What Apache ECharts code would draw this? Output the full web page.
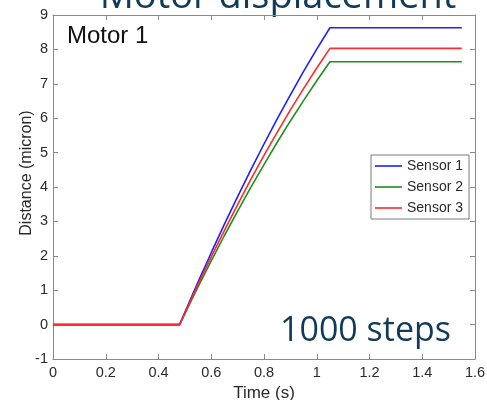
<!DOCTYPE html>
<html>
<head>
<meta charset="utf-8">
<script src="https://cdn.jsdelivr.net/npm/echarts@6/dist/echarts.min.js"></script>
<style>
html,body{margin:0;padding:0;background:#fff;}
#chart{width:487px;height:400px;}
</style>
</head>
<body>
<div id="chart"></div>
<script>
const times   = [0, 0.48, 0.52, 0.56, 0.60, 0.65, 0.70, 0.75, 0.80, 0.85, 0.90, 0.95, 1.00, 1.05, 1.55];
const sensor1 = [0, 0, 0.71, 1.41, 2.09, 2.92, 3.72, 4.50, 5.25, 5.98, 6.68, 7.36, 8.01, 8.63, 8.63];
const sensor2 = [0, 0, 0.63, 1.25, 1.85, 2.59, 3.30, 3.99, 4.65, 5.30, 5.92, 6.51, 7.09, 7.64, 7.64];
const sensor3 = [0, 0, 0.67, 1.33, 1.97, 2.74, 3.49, 4.22, 4.92, 5.59, 6.24, 6.86, 7.46, 8.03, 8.03];
const seriesNames = ['Sensor 1', 'Sensor 2', 'Sensor 3'];
const seriesColors = ['#1f1fff', '#1f8f1f', '#ff2a2a'];
const titleText = 'Motor displacement';
const panelText = 'Motor 1';
const stepsText = '1000 steps';
const xName = 'Time (s)';
const yName = 'Distance (micron)';

const pairs = arr => times.map((t, i) => [t, arr[i]]);
const seriesData = [sensor1, sensor2, sensor3];

const axisColor = '#8a8a8a';
const labelColor = '#2a2a2a';
const font = 'Liberation Sans, Arial, sans-serif';

const frameAxis = {
  axisLine: {show: true, onZero: false, lineStyle: {color: axisColor, width: 1}},
  axisTick: {show: true, inside: true, length: 5, lineStyle: {color: axisColor}},
  splitLine: {show: false}
};

const chart = echarts.init(document.getElementById('chart'));
chart.setOption({
  animation: false,
  backgroundColor: '#fff',
  grid: {left: 53, right: 12, top: 15, bottom: 41, containLabel: false, outerBoundsMode: 'none'},
  xAxis: [Object.assign({
    type: 'value', min: 0, max: 1.6, interval: 0.2, position: 'bottom',
    name: xName, nameLocation: 'middle', nameGap: 21,
    nameTextStyle: {fontFamily: font, fontSize: 17, color: labelColor},
    axisLabel: {fontFamily: font, fontSize: 14.5, color: labelColor, margin: 6,
      formatter: v => String(Math.round(v * 10) / 10)}
  }, frameAxis), Object.assign({
    type: 'value', min: 0, max: 1.6, interval: 0.2, position: 'top',
    axisLabel: {show: false}
  }, frameAxis)],
  yAxis: [Object.assign({
    type: 'value', min: -1, max: 9, interval: 1, position: 'left',
    axisLabel: {fontFamily: font, fontSize: 14.5, color: labelColor, margin: 5}
  }, frameAxis), Object.assign({
    type: 'value', min: -1, max: 9, interval: 1, position: 'right',
    axisLabel: {show: false}
  }, frameAxis)],
  legend: {
    orient: 'vertical', left: 371, top: 155,
    itemWidth: 27, itemHeight: 14, itemGap: 7,
    padding: [4, 6, 4, 4],
    backgroundColor: '#fff', borderColor: '#7a7a7a', borderWidth: 1,
    textStyle: {fontFamily: font, fontSize: 14, color: labelColor},
    data: seriesNames.map(n => ({name: n, icon: 'path://M0 0H27V1.6H0Z'}))
  },
  series: seriesNames.map((n, i) => ({
    name: n, type: 'line', data: pairs(seriesData[i]),
    symbol: 'none', showSymbol: false,
    lineStyle: {color: seriesColors[i], width: 1.6},
    itemStyle: {color: seriesColors[i]},
    z: i === 1 ? 2 : (i === 0 ? 3 : 4)
  })),
  graphic: [
    {type: 'text', style: {text: titleText, x: 278, y: -3, align: 'center', verticalAlign: 'middle',
      font: '38px "Open Sans", sans-serif', fill: '#123a5a'}},
    {type: 'text', style: {text: panelText, x: 67, y: 36, align: 'left', verticalAlign: 'middle',
      font: '24px "Liberation Sans", Arial, sans-serif', fill: '#111'}},
    {type: 'text', style: {text: stepsText, x: 280, y: 331, align: 'left', verticalAlign: 'middle',
      font: '34px "Open Sans", sans-serif', fill: '#123a5a'}},
    {type: 'text', rotation: Math.PI / 2, x: 27, y: 173,
      style: {text: yName, x: 0, y: 0, align: 'center', verticalAlign: 'middle',
      font: '16px "Liberation Sans", Arial, sans-serif', fill: labelColor}}
  ]
});
</script>
</body>
</html>
